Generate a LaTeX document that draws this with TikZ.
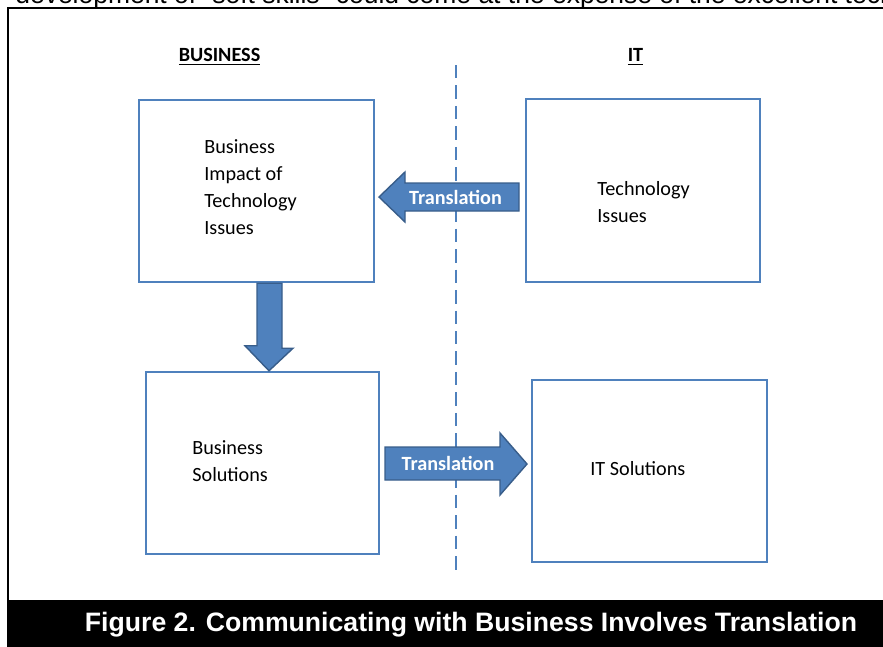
\documentclass[tikz,border=0pt]{standalone}
\usepackage{fontspec}
\setmainfont{Liberation Sans}
\newfontfamily\calibri{Carlito}
\usetikzlibrary{fit}
\definecolor{boxblue}{RGB}{79,129,189}
\definecolor{arrowedge}{RGB}{56,93,138}
\tikzstyle{box}=[rectangle, draw=boxblue, line width=1.4pt, inner sep=0pt]
\tikzstyle{boxtext}=[anchor=west, align=left, inner sep=0pt, font=\calibri\fontsize{11.45}{15.3}\selectfont]
\tikzstyle{heading}=[anchor=base, inner sep=0pt, font=\calibri\bfseries\fontsize{11.45}{15.3}\selectfont]
\tikzstyle{fatarrow}=[fill=boxblue, draw=arrowedge, line width=0.8pt, line join=miter]
\tikzstyle{arrowtext}=[inner sep=0pt, text=white, font=\calibri\bfseries\fontsize{11.45}{15.3}\selectfont]
\tikzstyle{divider}=[draw=boxblue, line width=1.4pt, dash pattern=on 7.6pt off 4pt]

\begin{document}
\begin{tikzpicture}[x=0.5669pt, y=-0.5669pt]
	\useasboundingbox (0,0) rectangle (883,646);
	\clip (0,0) rectangle (883,646);
	\begin{scope}
		% page text above the figure, cut by the frame
		\node (above) at (15,3.5) [anchor=base west, inner sep=0pt, font=\fontsize{15}{18}\selectfont] {development of ``soft skills'' could come at the expense of the excellent technical};
		\draw [line width=1.4pt] (8,660) -- (8,8) -- (895,8);
		\fill [black] (8,600) rectangle (895,660);
		\node (caption) at (471,631) [anchor=base, inner sep=0pt, text=white, font=\bfseries\fontsize{15.1}{18}\selectfont] {Figure 2. Communicating with Business Involves Translation};
	\end{scope}
	\begin{scope}
		\node (bus) at (219.5,61.5) [heading] {\underline{BUSINESS}};
		\node (it) at (635.5,61.5) [heading] {\underline{IT}};
		\coordinate (d1) at (456,65);
		\coordinate (d2) at (456,575);

		\node (impact) [box, fit={(139,100) (374,282)}] {};
		\node (tech) [box, fit={(526,99) (760,282)}] {};
		\node (bsol) [box, fit={(146,372) (379,554)}] {};
		\node (itsol) [box, fit={(532,380) (767,562)}] {};

		\node (impactt) at (204,186.7) [boxtext] {Business\\Impact of\\Technology\\Issues};
		\node (techt) at (597,202) [boxtext] {Technology\\Issues};
		\node (bsolt) at (192,461) [boxtext] {Business\\Solutions};
		\node (itsolt) at (590,468.5) [boxtext] {IT Solutions};
	\end{scope}
	\begin{scope}
		\path [divider] (d1) -- (d2);

		% tech -> impact
		\draw [fatarrow] (379,197) coordinate (tip1) -- ++(26,-25) -- ++(0,11) -- ++(114,0) -- ++(0,28) -- ++(-114,0) -- ++(0,11) -- cycle;
		\node (tr1) at (455.5,197) [arrowtext] {Translation};

		% impact -> bsol
		\draw [fatarrow] (impact.south) ++(0.5,0) -- ++(25,0) -- ++(0,65) -- ++(11,0) -- (bsol.north -| 269,0) -- ++(-24,-25) -- ++(12,0) -- cycle;

		% bsol -> itsol
		\draw [fatarrow] (385,447) -- ++(115,0) -- ++(0,-14) -- ++(27,31) coordinate (tip3) -- ++(-27,31) -- ++(0,-15) -- ++(-115,0) -- cycle;
		\node (tr2) at (448,463.5) [arrowtext] {Translation};
	\end{scope}
\end{tikzpicture}
\end{document}
